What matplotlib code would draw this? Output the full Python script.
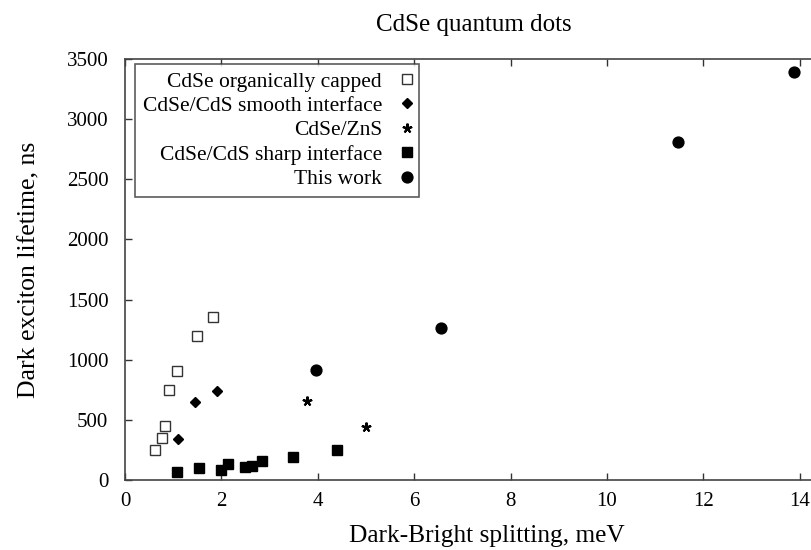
import matplotlib
matplotlib.use("Agg")
import matplotlib.pyplot as plt

plt.rcParams['font.family'] = ['Liberation Serif', 'DejaVu Serif']

# Data
organic_x = [0.62, 0.77, 0.83, 0.92, 1.07, 1.49, 1.82]
organic_y = [250, 352, 452, 750, 903, 1197, 1356]

smooth_x = [1.10, 1.45, 1.90]
smooth_y = [339, 647, 742]

zns_x = [3.78, 4.99]
zns_y = [656, 439]

sharp_x = [1.07, 1.54, 2.00, 2.13, 2.49, 2.64, 2.85, 3.49, 4.40]
sharp_y = [69, 97, 83, 133, 111, 117, 158, 192, 253]

work_x = [3.96, 6.56, 11.48, 13.89]
work_y = [917, 1260, 2811, 3389]

xticks = [0, 2, 4, 6, 8, 10, 12, 14]
yticks = [0, 500, 1000, 1500, 2000, 2500, 3000, 3500]

fig = plt.figure(figsize=(8.12, 5.5), dpi=100)
ax = fig.add_axes([125/812, 1-480/550, 15*48.2/812, (480-59)/550])

ax.plot(organic_x, organic_y, ls='none', marker='s', ms=7.5, mfc='white', mec='#333333', mew=1.0,
        label='CdSe organically capped')
ax.plot(smooth_x, smooth_y, ls='none', marker='D', ms=5.5, color='black',
        label='CdSe/CdS smooth interface')
ax.plot(zns_x, zns_y, ls='none', marker=(5, 2, 0), ms=7, color='black', mew=1.5,
        label='CdSe/ZnS')
ax.plot(sharp_x, sharp_y, ls='none', marker='s', ms=7, color='black',
        label='CdSe/CdS sharp interface')
ax.plot(work_x, work_y, ls='none', marker='o', ms=7.8, color='black',
        label='This work')

ax.set_xlim(0, 15)
ax.set_ylim(0, 3500)
ax.set_xticks(xticks)
ax.set_yticks(yticks)
ax.tick_params(direction='in', length=5, width=1, top=True, right=True,
               labelsize=15, colors='#333333', labelcolor='black')
ax.tick_params(axis='y', pad=12)
ax.tick_params(axis='x', pad=9)
for s in ax.spines.values():
    s.set_color('#444444')
    s.set_linewidth(1.2)

ax.set_xlabel('Dark-Bright splitting, meV', fontsize=18.3, labelpad=10)
ax.set_ylabel('Dark exciton lifetime, ns', fontsize=18.5, labelpad=19)
fig.text(474/812, 1-25/550, 'CdSe quantum dots', fontsize=18, ha='center', va='center')

leg = ax.legend(loc='upper right', markerfirst=False, fontsize=15.5, frameon=True,
                fancybox=False, edgecolor='#333333', borderaxespad=0,
                handletextpad=0.95, labelspacing=0.2, borderpad=0.35,
                handlelength=0.42, bbox_to_anchor=(0.4066, 0.988))
leg.get_frame().set_linewidth(1.2)
for t in leg.get_texts():
    t.set_ha('right')
leg._legend_box.align = 'right'

fig.savefig('out.png', dpi=100)
